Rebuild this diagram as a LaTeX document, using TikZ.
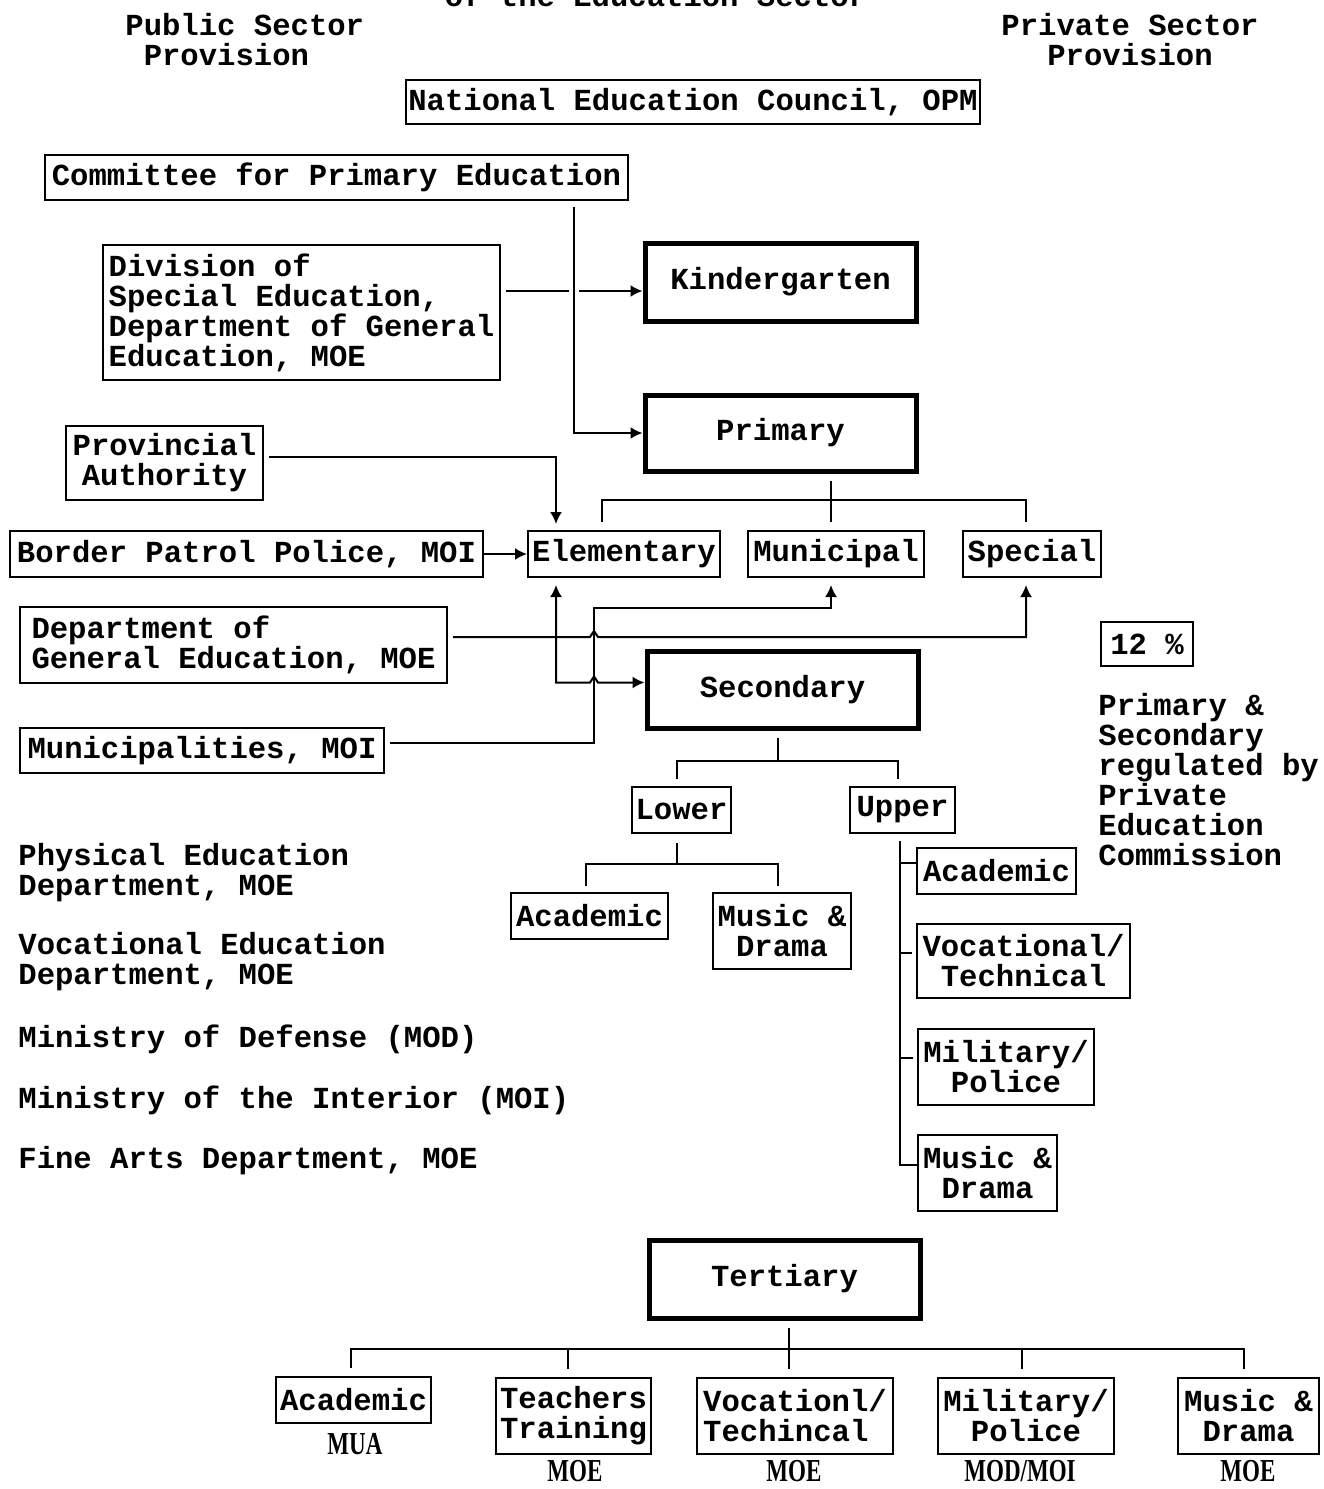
\documentclass[tikz,border=0pt]{standalone}
\usepackage{fontspec}
\setmainfont{Liberation Mono}
\newfontfamily\labelfont{Liberation Serif}[BoldFont={* Bold}, BoldFeatures={FakeStretch=0.72}, FakeStretch=0.72]
\usetikzlibrary{arrows.meta}
\tikzset{
	box/.style={draw, line width=1pt, inner sep=1pt, align=center},
	bigbox/.style={box, line width=2.5pt},
	sz/.style 2 args={minimum width=#1*0.5pt, minimum height=#2*0.5pt},
	conn/.style={line width=1pt},
	arr/.style={conn, -{Latex[length=6pt,width=6pt]}},
	arrboth/.style={conn, {Latex[length=6pt,width=6pt]}-{Latex[length=6pt,width=6pt]}},
	freetext/.style={inner sep=0pt, align=left, anchor=west},
	agency/.style={font=\labelfont\bfseries\fontsize{16}{16}\selectfont, inner sep=0pt, anchor=base}
}

\begin{document}
\begin{tikzpicture}[x=0.5pt, y=-0.5pt, font=\bfseries\fontsize{15.3}{15}\selectfont]
			%%%%% START %%%%%
			\useasboundingbox (0,0) rectangle (1323,1489);
			
			\node[anchor=base] (title) at (656,6) {of the Education Sector};
			\node[freetext] (public) at (125,40) {Public Sector\\\hphantom{x}Provision};
			\node[align=center, inner sep=0pt] (private) at (1130,40) {Private Sector\\Provision};
			
			\node[box, sz={572}{44}] (council) at (693,102) {National Education Council, OPM};
			\node[box, sz={583}{45}] (committee) at (336.5,177.5) {Committee for Primary Education};
			\node[box, align=left, sz={397}{135}] (division) at (301.5,312.5) {Division of\\Special Education,\\Department of General\\Education, MOE};
			\node[bigbox, sz={271}{78}] (kinder) at (780.5,282) {Kindergarten};
			\node[bigbox, sz={271}{76}] (primary) at (780.5,433) {Primary};
			\node[box, sz={197}{74}] (provincial) at (164.5,463) {Provincial\\Authority};
			
			\node[box, sz={473}{46}] (border) at (246.5,554) {Border Patrol Police, MOI};
			\node[box, sz={192}{46}] (elementary) at (624,554) {Elementary};
			\node[box, sz={176}{46}] (municipal) at (836,554) {Municipal};
			\node[box, sz={138}{46}] (special) at (1032,554) {Special};
			\node[box, align=left, sz={427}{76}] (dept) at (233.5,645) {Department of\\General Education, MOE};
			\node[bigbox, sz={271}{77}] (secondary) at (782.5,689.5) {Secondary};
			\node[box, sz={364}{45}] (municipalities) at (202,750.5) {Municipalities, MOI};
			
			\node[box, sz={92}{44}] (share) at (1147,644) {12 \%};
			\node[freetext] (regulated) at (1098,780) {Primary \&\\Secondary\\regulated by\\Private\\Education\\Commission};
			
			\node[box, sz={99}{46}] (lower) at (681.5,810) {Lower};
			\node[box, sz={105}{46}] (upper) at (902.5,810) {Upper};
			\node[box, sz={157}{46}] (lacad) at (589.5,916) {Academic};
			\node[box, sz={138}{76}] (lmusic) at (782,931) {Music \&\\Drama};
			\node[box, sz={159}{46}] (uacad) at (996.5,871) {Academic};
			\node[box, sz={213}{74}] (uvoc) at (1023.5,961) {Vocational/\\Technical};
			\node[box, sz={176}{76}] (umil) at (1006,1067) {Military/\\Police};
			\node[box, sz={139}{76}] (umusic) at (987.5,1173) {Music \&\\Drama};
			
			\node[freetext] (physical) at (18,873) {Physical Education\\Department, MOE};
			\node[freetext] (vocational) at (18,962) {Vocational Education\\Department, MOE};
			\node[freetext, anchor=base west] (defense) at (18,1047) {Ministry of Defense (MOD)};
			\node[freetext, anchor=base west] (interior) at (18,1108) {Ministry of the Interior (MOI)};
			\node[freetext, anchor=base west] (finearts) at (18,1168) {Fine Arts Department, MOE};
			
			\node[bigbox, sz={271}{78}] (tertiary) at (784.5,1279) {Tertiary};
			\node[box, sz={155}{46}] (tacad) at (353.5,1400) {Academic};
			\node[box, sz={155}{76}] (tteach) at (573.5,1416) {Teachers\\Training};
			\node[box, align=left, sz={196}{76}] (tvoc) at (795,1416) {Vocationl/\\Techincal};
			\node[box, sz={176}{76}] (tmil) at (1026,1416) {Military/\\Police};
			\node[box, sz={141}{76}] (tmusic) at (1248.5,1416) {Music \&\\Drama};
			
			\node[agency] (mua) at (355,1454) {MUA};
			\node[agency] (moeteach) at (575,1481) {MOE};
			\node[agency] (moevoc) at (794,1481) {MOE};
			\node[agency] (modmoi) at (1020,1481) {MOD/MOI};
			\node[agency] (moemusic) at (1248,1481) {MOE};
			
			% primary level
			\coordinate (trunk) at (574,207);
			\coordinate (divline) at (0,291);
			\coordinate (mup) at (594,608);
			
			\draw[arr] (trunk) |- (primary.west);
			\draw[conn] ([xshift=2.5pt]division.east |- divline) -- ([xshift=-2.5pt]trunk |- divline);
			\draw[arr] ([xshift=2.5pt]trunk |- divline) -- (kinder.west |- divline);
			\draw[arr] ([xshift=2.5pt,yshift=3pt]provincial.east) -| ([xshift=14.5pt,yshift=3pt]elementary.north west);
			\draw[arr] (border.east) -- (elementary.west);
			
			\draw[conn] ([xshift=-2.5pt,yshift=-3.5pt]primary.south -| municipal.north) -- ([xshift=-2.5pt,yshift=4pt]municipal.north);
			\draw[conn] ([xshift=-11pt,yshift=4pt]elementary.north) |- ([yshift=15pt]municipal.north) -| ([xshift=-3pt,yshift=4pt]special.north);
			
			\draw[arr] ([xshift=2.5pt,yshift=4pt]dept.east) -- ([xshift=-2pt,yshift=4pt]mup |- dept.east) -- ++(4,-6) -- ++(4,6) -| ([xshift=-3pt,yshift=-3.5pt]special.south);
			\draw[arr] ([xshift=2.5pt,yshift=4pt]municipalities.east) -| (mup) -| ([xshift=-2.5pt,yshift=-3.5pt]municipal.south);
			\draw[arrboth] ([xshift=14.5pt,yshift=-3.5pt]elementary.south west) |- ([xshift=-2pt,yshift=3.5pt]mup |- secondary.west) -- ++(4,-6) -- ++(4,6) -- ([yshift=3.5pt]secondary.west);
			
			% secondary level
			\draw[conn] ([xshift=-2.5pt,yshift=-3.5pt]secondary.south) -- ([xshift=-2.5pt,yshift=-15pt]secondary.south);
			\draw[conn] ([xshift=-2.5pt,yshift=3.5pt]lower.north) |- ([yshift=-15pt]secondary.south) -| ([xshift=-2.5pt,yshift=3.5pt]upper.north);
			
			\draw[conn] ([xshift=-2.5pt,yshift=-4.5pt]lower.south) -- ([xshift=-2.5pt,yshift=-15pt]lower.south);
			\draw[conn] ([xshift=-2pt,yshift=3pt]lacad.north) |- ([yshift=-15pt]lower.south) -| ([xshift=-2pt,yshift=3pt]lmusic.north);
			
			\draw[conn] ([xshift=-1.25pt,yshift=-3.5pt]upper.south) |- ([yshift=4pt]umusic.west);
			\draw[conn] ([yshift=4pt]uacad.west) -- ++(-17,0);
			\draw[conn] ([xshift=-2pt,yshift=4pt]uvoc.west) -- ++(-13,0);
			\draw[conn] ([xshift=-2pt,yshift=4.5pt]umil.west) -- ++(-14,0);
			
			% tertiary level
			\draw[conn] ([xshift=2pt,yshift=-3.5pt]tertiary.south) -- ([xshift=2pt,yshift=4pt]tertiary.south |- tvoc.north);
			\draw[conn] ([xshift=-1.25pt,yshift=4pt]tacad.north) |- ([yshift=-14pt]tertiary.south) -| ([xshift=-2.25pt,yshift=4pt]tmusic.north);
			\draw[conn] ([xshift=-2.75pt,yshift=4pt]tteach.north) -- ([xshift=-2.75pt,yshift=-14pt]tteach.north |- tertiary.south);
			\draw[conn] ([xshift=-2pt,yshift=4pt]tmil.north) -- ([xshift=-2pt,yshift=-14pt]tmil.north |- tertiary.south);
			
			%%%%% END %%%%%
\end{tikzpicture}
\end{document}
